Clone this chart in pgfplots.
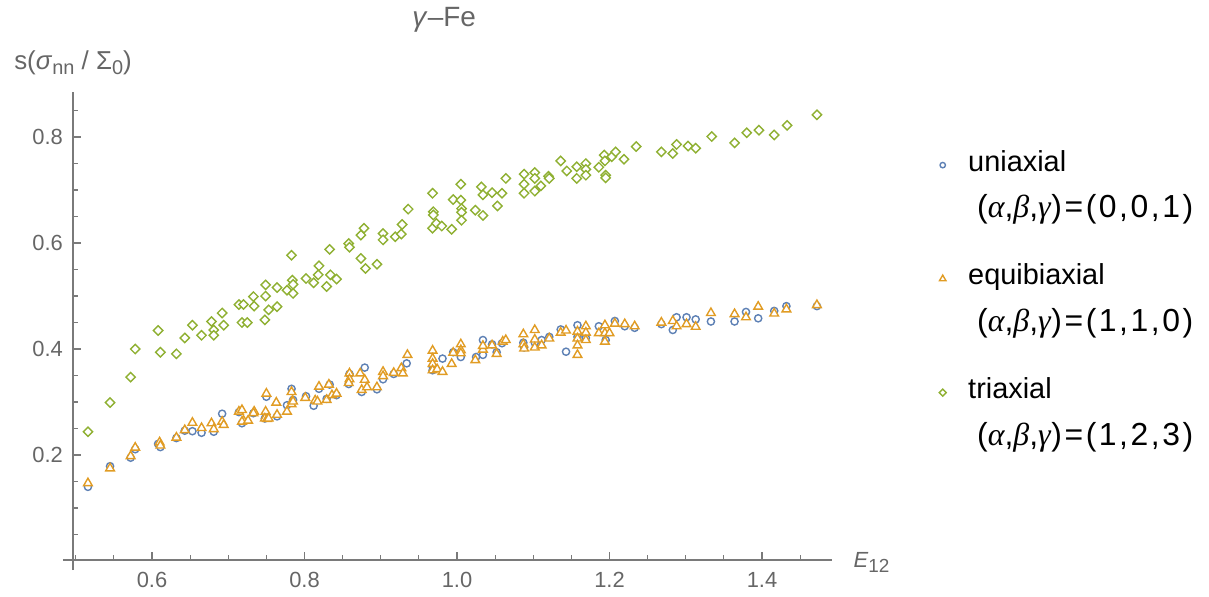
\documentclass[border=0pt]{standalone}
\usepackage{fontspec}
\setmainfont{Liberation Sans}
\newfontfamily\grk{Liberation Serif}
\usepackage{pgfplots}
\pgfplotsset{compat=1.18}

\definecolor{mblue}{HTML}{5E81B5}
\definecolor{morange}{HTML}{E19C24}
\definecolor{mgreen}{HTML}{8FB032}
\definecolor{axgray}{HTML}{7A7A7A}
\definecolor{txgray}{HTML}{666666}

% second line of a legend entry
\newcommand{\abg}[1]{\\[12bp]\hspace{9bp}{\fontsize{32}{35}\selectfont\addfontfeature{LetterSpace=8}(\textit{\grk α},\textit{\grk β},\textit{\grk γ})=(#1)}}

\begin{document}
\begin{tikzpicture}
\useasboundingbox (0,0) rectangle (1209bp,597bp);
\begin{axis}[
    at={(73bp,37bp)}, anchor=south west,
    scale only axis, width=759bp, height=468bp,
    xmin=0.4964, xmax=1.4918, ymin=0.002, ymax=0.885,
    clip=false,
    axis lines=left,
    axis line style={-, draw=axgray, line width=1.2bp},
    x axis line style={shorten <=-10bp},
    y axis line style={shorten <=-10bp},
    tick align=inside,
    major tick length=8bp, minor tick length=5bp,
    tick style={draw=axgray, line width=1.2bp},
    xtick={0.6,0.8,1.0,1.2,1.4},
    minor xtick={0.5,0.55,...,1.46},
    ytick={0.2,0.4,0.6,0.8},
    minor ytick={0.05,0.1,...,0.86},
    /pgf/number format/.cd, fixed, fixed zerofill, precision=1, assume math mode=true,
    /pgfplots/.cd,
    ticklabel style={font=\fontsize{22}{26}\selectfont, text=txgray, inner sep=0pt},
    xticklabel style={anchor=north, yshift=-12bp},
    yticklabel style={anchor=east, xshift=-10bp},
    title={\textit{γ}–Fe},
    title style={font=\fontsize{28}{34}\selectfont, text=txgray,
        at={(axis description cs:0.489,1)}, anchor=base, yshift=60bp},
    ylabel={s(\textit{σ}\raisebox{-5bp}{\fontsize{20}{24}\selectfont nn} / Σ\raisebox{-5bp}{\fontsize{20}{24}\selectfont 0})},
    ylabel style={rotate=-90, font=\fontsize{26}{32}\selectfont\color{txgray},
        at={(axis description cs:0,1)}, anchor=base, yshift=22bp},
    xlabel={\textit{E}\raisebox{-5bp}{\fontsize{19}{22}\selectfont 12}},
    xlabel style={font=\fontsize{22}{26}\selectfont, text=txgray,
        at={(axis description cs:1,0)}, anchor=base west, xshift=18bp, yshift=-7bp},
    legend image code/.code={\draw[#1, every mark/.append style={scale=0.75}] plot coordinates {(0bp,6bp)};},
    legend style={at={(1.141,0.8835)}, anchor=north west, draw=none, fill=none,
        inner sep=0pt, font=\fontsize{29}{35}\selectfont, text=black,
        cells={anchor=base west}, nodes={inner sep=0pt, text depth={}},
        column sep=22bp, row sep=32bp},
]

% uniaxial
\addplot[only marks, color=mblue, mark=*, mark size=3.6bp,
    mark options={draw=mblue, fill=white, line width=1.4bp}] coordinates {
(0.516,0.140) (0.545,0.179) (0.572,0.195) (0.578,0.211) (0.608,0.221) (0.611,0.215)
(0.632,0.232) (0.643,0.246) (0.653,0.245) (0.665,0.242) (0.681,0.244) (0.692,0.278)
(0.718,0.260) (0.714,0.281) (0.733,0.279) (0.748,0.269) (0.750,0.310) (0.764,0.273)
(0.777,0.294) (0.783,0.325) (0.785,0.304) (0.802,0.311) (0.812,0.293) (0.819,0.325)
(0.829,0.306) (0.833,0.333) (0.842,0.313) (0.858,0.334) (0.859,0.353) (0.875,0.319)
(0.879,0.365) (0.895,0.324) (0.903,0.343) (0.917,0.353) (0.934,0.373) (0.968,0.367)
(0.968,0.360) (0.981,0.382) (0.995,0.394) (1.005,0.385) (1.025,0.385) (1.034,0.417)
(1.034,0.389) (1.046,0.409) (1.052,0.394) (1.059,0.411) (1.087,0.412) (1.088,0.403)
(1.102,0.412) (1.111,0.417) (1.121,0.423) (1.136,0.437) (1.143,0.395) (1.158,0.445)
(1.158,0.423) (1.169,0.421) (1.186,0.443) (1.195,0.417) (1.207,0.453) (1.220,0.443)
(1.233,0.440) (1.268,0.447) (1.283,0.436) (1.288,0.460) (1.301,0.460) (1.313,0.456)
(1.333,0.452) (1.364,0.452) (1.379,0.470) (1.395,0.458) (1.416,0.472) (1.432,0.481)
(1.472,0.481)
};
\addlegendentry{\begin{tabular}[t]{@{}l@{}}uniaxial\abg{0,0,1}\end{tabular}}

% equibiaxial
\addplot[only marks, color=morange, mark=triangle*, mark size=5bp,
    mark options={draw=morange, fill=white, line width=1.4bp}] coordinates {
(0.516,0.147) (0.545,0.175) (0.572,0.198) (0.578,0.214) (0.610,0.224) (0.611,0.218)
(0.632,0.233) (0.643,0.247) (0.653,0.261) (0.665,0.251) (0.678,0.260) (0.681,0.249)
(0.692,0.263) (0.694,0.257) (0.714,0.282) (0.718,0.285) (0.720,0.265) (0.718,0.263)
(0.726,0.265) (0.734,0.282) (0.733,0.279) (0.750,0.316) (0.749,0.282) (0.748,0.269)
(0.751,0.268) (0.753,0.269) (0.763,0.299) (0.764,0.276) (0.777,0.282) (0.783,0.319)
(0.784,0.302) (0.783,0.296) (0.785,0.301) (0.801,0.308) (0.814,0.303) (0.817,0.301)
(0.819,0.329) (0.829,0.304) (0.832,0.333) (0.836,0.313) (0.842,0.316) (0.859,0.354)
(0.859,0.343) (0.858,0.336) (0.873,0.354) (0.875,0.323) (0.879,0.342) (0.882,0.328)
(0.895,0.328) (0.903,0.357) (0.903,0.349) (0.917,0.355) (0.927,0.364) (0.935,0.389)
(0.929,0.354) (0.968,0.397) (0.968,0.382) (0.968,0.372) (0.968,0.360) (0.974,0.362)
(0.981,0.357) (0.993,0.372) (0.995,0.393) (1.005,0.409) (1.005,0.398) (1.005,0.392)
(1.024,0.379) (1.034,0.399) (1.034,0.406) (1.046,0.407) (1.052,0.391) (1.060,0.414)
(1.064,0.417) (1.087,0.428) (1.087,0.409) (1.088,0.401) (1.102,0.436) (1.102,0.418)
(1.102,0.403) (1.111,0.407) (1.121,0.420) (1.136,0.431) (1.143,0.435) (1.158,0.433)
(1.158,0.420) (1.158,0.407) (1.158,0.389) (1.169,0.443) (1.169,0.431) (1.169,0.417)
(1.186,0.430) (1.194,0.445) (1.194,0.430) (1.194,0.414) (1.200,0.430) (1.207,0.448)
(1.220,0.447) (1.233,0.443) (1.268,0.450) (1.283,0.453) (1.288,0.443) (1.301,0.447)
(1.313,0.442) (1.333,0.468) (1.364,0.466) (1.379,0.460) (1.395,0.480) (1.416,0.467)
(1.432,0.475) (1.472,0.483)
};
\addlegendentry{\begin{tabular}[t]{@{}l@{}}equibiaxial\abg{1,1,0}\end{tabular}}

% triaxial
\addplot[only marks, color=mgreen, mark=square*, mark size=3.3bp,
    mark options={draw=mgreen, fill=white, line width=1.4bp, rotate=45}] coordinates {
(0.516,0.244) (0.545,0.299) (0.572,0.347) (0.578,0.400) (0.608,0.435) (0.611,0.394)
(0.632,0.391) (0.643,0.421) (0.653,0.445) (0.665,0.426) (0.678,0.452) (0.681,0.436)
(0.681,0.426) (0.692,0.468) (0.694,0.445) (0.714,0.484) (0.720,0.484) (0.718,0.450)
(0.725,0.450) (0.733,0.499) (0.734,0.481) (0.749,0.521) (0.749,0.500) (0.753,0.474)
(0.748,0.455) (0.764,0.480) (0.764,0.516) (0.777,0.511) (0.783,0.577) (0.784,0.530)
(0.785,0.522) (0.785,0.505) (0.802,0.533) (0.812,0.525) (0.818,0.540) (0.819,0.557)
(0.829,0.518) (0.833,0.588) (0.834,0.540) (0.842,0.532) (0.858,0.599) (0.859,0.592)
(0.874,0.615) (0.878,0.628) (0.874,0.571) (0.880,0.552) (0.895,0.560) (0.903,0.618)
(0.903,0.606) (0.919,0.612) (0.927,0.617) (0.928,0.635) (0.936,0.664) (0.968,0.694)
(0.969,0.659) (0.969,0.653) (0.968,0.628) (0.973,0.637) (0.980,0.632) (0.993,0.626)
(0.995,0.682) (1.005,0.711) (1.005,0.681) (1.006,0.665) (1.006,0.658) (1.006,0.643)
(1.024,0.662) (1.032,0.706) (1.034,0.691) (1.034,0.652) (1.046,0.695) (1.053,0.670)
(1.059,0.694) (1.064,0.722) (1.088,0.730) (1.088,0.711) (1.088,0.694) (1.102,0.733)
(1.102,0.722) (1.102,0.698) (1.110,0.708) (1.120,0.726) (1.121,0.722) (1.136,0.755)
(1.144,0.736) (1.157,0.744) (1.157,0.722) (1.169,0.750) (1.169,0.739) (1.169,0.728)
(1.186,0.743) (1.193,0.766) (1.194,0.755) (1.195,0.728) (1.195,0.723) (1.203,0.763)
(1.208,0.772) (1.219,0.758) (1.235,0.782) (1.268,0.772) (1.283,0.769) (1.288,0.786)
(1.303,0.783) (1.313,0.779) (1.334,0.801) (1.364,0.789) (1.380,0.808) (1.396,0.813)
(1.416,0.804) (1.433,0.822) (1.472,0.842)
};
\addlegendentry{\begin{tabular}[t]{@{}l@{}}triaxial\abg{1,2,3}\end{tabular}}

\end{axis}
\end{tikzpicture}
\end{document}
